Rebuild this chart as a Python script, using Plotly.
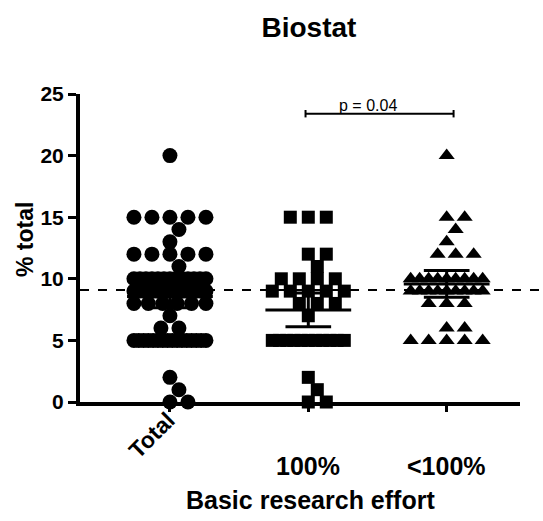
import numpy as np
import plotly.graph_objects as go

# ---------------- data ----------------
CATEGORIES = ["Total", "100%", "<100%"]
SYMBOLS = ["circle", "square", "triangle-up"]
MARKER_SIZES = [15, 13, 14]

TOTAL = [20,
         15, 15, 15, 15, 15,
         14, 13,
         12, 12, 12, 12, 12,
         11,
         10, 10, 10, 10, 10, 10, 10, 10, 10, 10, 10, 10, 10,
         9, 9, 9, 9, 9, 9, 9, 9, 9, 9, 9, 9, 9, 9,
         8, 8, 8, 8, 8, 8,
         7,
         6, 6,
         5, 5, 5, 5, 5, 5, 5, 5, 5, 5, 5, 5, 5, 5, 5, 5,
         2, 1, 0, 0]
VALUES_100 = [15, 15, 15,
              12, 12,
              11,
              10, 10, 10, 10,
              9, 9, 9, 9, 9,
              8, 8, 8,
              7,
              5, 5, 5, 5, 5, 5, 5, 5, 5, 5, 5,
              2, 1, 0, 0]
VALUES_LT100 = [20,
                15, 15,
                14, 13,
                12, 12, 12,
                10, 10, 10, 10, 10, 10, 10, 10, 10,
                9, 9, 9, 9, 9, 9, 9, 9, 9,
                8, 8, 8,
                6, 6,
                5, 5, 5, 5, 5]
GROUPS = [TOTAL, VALUES_100, VALUES_LT100]

REFERENCE_LINE = 9.1
P_TEXT = "p = 0.04"
P_BRACKET_Y = 23.4
P_GROUPS = (1, 2)

TITLE = "Biostat"
Y_TITLE = "% total"
X_TITLE = "Basic research effort"
Y_TICKS = [0, 5, 10, 15, 20, 25]

# ---------------- layout constants ----------------
FONT = "Liberation Sans, Arial, sans-serif"
W, H = 543, 521
M_L, M_R, M_T, M_B = 80, 23, 94, 119
X_RANGE = [-0.65, 2.53]
Y_RANGE = [0, 25]
PX_PER_X = (W - M_L - M_R) / (X_RANGE[1] - X_RANGE[0])
PX_PER_Y = (H - M_T - M_B) / (Y_RANGE[1] - Y_RANGE[0])

ROW_SPACING = 18.0     # px between equal values
GRID = 9.0             # px candidate grid for greedy placement
CROSS_CLEAR = 9.0      # px min horizontal clearance to neighbouring values
NEIGH_DY = 14.0        # px vertical distance under which values are neighbours
MAX_ROW = 72.0         # px max spread of a row
MEAN_HALF = 0.31
CAP_HALF = 0.165


def swarm_offsets(values):
    """Greedy beeswarm (px space), processed from the highest value down."""
    values = np.asarray(values, dtype=float)
    off = np.zeros(len(values))
    placed = []  # (y_px, x_px, blocking)
    cands = [0.0]
    for k in range(1, 40):
        cands += [k * GRID, -k * GRID]
    for v in sorted(np.unique(values), reverse=True):
        idx = np.where(values == v)[0]
        n = len(idx)
        ypx = v * PX_PER_Y
        if n >= 4:
            s = min(ROW_SPACING, MAX_ROW / (n - 1))
            xs = (np.arange(n) - (n - 1) / 2) * s
            off[idx] = xs
            for x in xs:
                placed.append((ypx, x, s >= ROW_SPACING))
            continue
        row = []
        for i in idx:
            for c in cands:
                ok = all(abs(c - x) >= ROW_SPACING for x in row)
                if ok:
                    for (py, px, blk) in placed:
                        if blk and abs(py - ypx) < NEIGH_DY and abs(py - ypx) > 0 and abs(c - px) < CROSS_CLEAR:
                            ok = False
                            break
                if ok:
                    row.append(c)
                    off[i] = c
                    break
        for x in row:
            placed.append((ypx, x, True))
    return off / PX_PER_X


fig = go.Figure()

for gi, vals in enumerate(GROUPS):
    vals = np.asarray(vals, dtype=float)
    xs = gi + swarm_offsets(vals)
    fig.add_trace(go.Scatter(
        x=xs, y=vals, mode="markers", cliponaxis=False, showlegend=False,
        marker=dict(symbol=SYMBOLS[gi], size=MARKER_SIZES[gi], color="black",
                    line=dict(width=0)),
    ))
    # mean with 95% CI
    n = len(vals)
    mean = vals.mean()
    sem = vals.std(ddof=1) / np.sqrt(n)
    ci = 2.03 * sem
    lo, hi = mean - ci, mean + ci
    line = dict(color="black", width=3)
    fig.add_trace(go.Scatter(x=[gi - MEAN_HALF, gi + MEAN_HALF], y=[mean, mean],
                             mode="lines", line=line, showlegend=False, hoverinfo="skip"))
    fig.add_trace(go.Scatter(x=[gi - CAP_HALF, gi + CAP_HALF, None, gi - CAP_HALF, gi + CAP_HALF, None, gi, gi],
                             y=[lo, lo, None, hi, hi, None, lo, hi],
                             mode="lines", line=line, showlegend=False, hoverinfo="skip"))

# reference dashed line
fig.add_shape(type="line", xref="paper", yref="y", x0=0, x1=1.06,
              y0=REFERENCE_LINE, y1=REFERENCE_LINE,
              line=dict(color="black", width=2, dash="dash"))

# p-value bracket
a, b = P_GROUPS
fig.add_trace(go.Scatter(
    x=[a - 0.02, b + 0.05, None, a - 0.02, a - 0.02, None, b + 0.05, b + 0.05],
    y=[P_BRACKET_Y, P_BRACKET_Y, None, P_BRACKET_Y - 0.3, P_BRACKET_Y + 0.3, None,
       P_BRACKET_Y - 0.3, P_BRACKET_Y + 0.3],
    mode="lines", line=dict(color="black", width=2), showlegend=False,
    cliponaxis=False, hoverinfo="skip"))
fig.add_annotation(x=(a + b) / 2 - 0.07, y=P_BRACKET_Y, xref="x", yref="y",
                   text=P_TEXT, showarrow=False, yanchor="bottom", yshift=-2,
                   font=dict(family=FONT, size=16, color="black"))

# category labels
for gi, cat in enumerate(CATEGORIES):
    if gi == 0:
        fig.add_annotation(x=gi - 0.13, y=-0.107, xref="x", yref="paper", text=cat,
                           showarrow=False, textangle=-45, xanchor="center", yanchor="middle",
                           font=dict(family=FONT, size=23, color="black", weight="bold"))
    else:
        fig.add_annotation(x=gi, y=-0.208, xref="x", yref="paper", text=cat,
                           showarrow=False, xanchor="center", yanchor="middle",
                           font=dict(family=FONT, size=25, color="black", weight="bold"))

# axis titles
fig.add_annotation(x=0.523, y=-0.318, xref="paper", yref="paper", text=X_TITLE,
                   showarrow=False, xanchor="center", yanchor="middle",
                   font=dict(family=FONT, size=25, color="black", weight="bold"))
fig.add_annotation(x=-0.125, y=0.526, xref="paper", yref="paper", text=Y_TITLE,
                   showarrow=False, textangle=-90, xanchor="center", yanchor="middle",
                   font=dict(family=FONT, size=23, color="black", weight="bold"))

fig.update_layout(
    width=W, height=H,
    margin=dict(l=M_L, r=M_R, t=M_T, b=M_B),
    paper_bgcolor="white", plot_bgcolor="white",
    title=dict(text=TITLE, x=0.569, y=0.948, xanchor="center", yanchor="middle",
               font=dict(family=FONT, size=28, color="black", weight="bold")),
    xaxis=dict(range=X_RANGE, tickvals=list(range(len(CATEGORIES))),
               ticktext=["" for _ in CATEGORIES], showgrid=False, zeroline=False,
               showline=True, linecolor="black", linewidth=4,
               ticks="outside", ticklen=6, tickwidth=3, tickcolor="black"),
    yaxis=dict(range=Y_RANGE, tickvals=Y_TICKS, showgrid=False, zeroline=False,
               showline=True, linecolor="black", linewidth=4,
               ticks="outside", ticklen=8, tickwidth=3, tickcolor="black",
               tickfont=dict(family=FONT, size=21, color="black", weight="bold")),
)

fig.write_html("out.html")
